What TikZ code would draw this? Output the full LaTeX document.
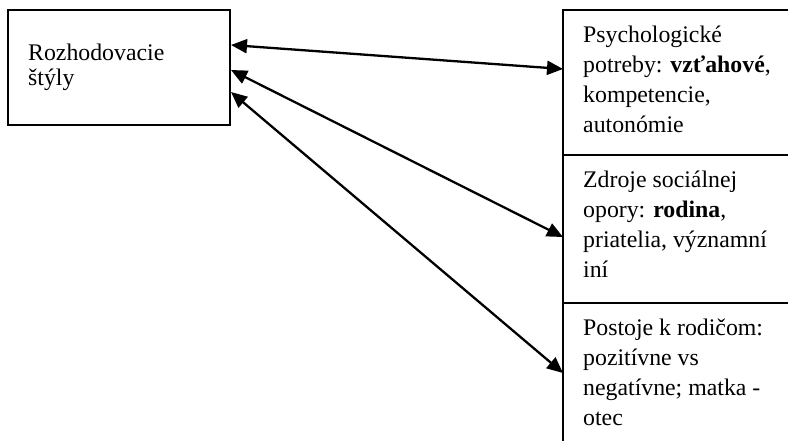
\documentclass[tikz,border=0pt]{standalone}
\usepackage{fontspec}
\setmainfont{Liberation Serif}
\usetikzlibrary{arrows.meta}
\begin{document}
\begin{tikzpicture}[x=1pt,y=-1pt,
  boxline/.style={draw=black,line width=1.5pt,inner sep=0pt},
  txt/.style={anchor=base west,inner sep=0pt,font=\fontsize{23.8}{30}\selectfont},
  link/.style={line width=2.3pt,{Triangle[length=16pt,width=14pt]}-{Triangle[length=16pt,width=14pt]}}]
\useasboundingbox (0,0) rectangle (788,440);
\fill[white] (0,0) rectangle (788,440);
% boxes
\node[boxline,minimum width=222pt,minimum height=115pt] (rs) at (119,67.5) {};
\node[boxline,minimum width=300pt,minimum height=145pt] (pp) at (713,82.5) {};
\node[boxline,minimum width=300pt,minimum height=148pt] (zs) at (713,229) {};
\node[boxline,minimum width=300pt,minimum height=160pt] (pr) at (713,383) {};
% texts
\node[txt] (t1) at (28,60) {Rozhodovacie};
\node[txt] (t2) at (28,85) {štýly};
\node[txt] (p1) at (583,42) {Psychologické};
\node[txt] (p2) at (583,72) {potreby: \textbf{vzťahové},};
\node[txt] (p3) at (583,102) {kompetencie,};
\node[txt] (p4) at (583,132) {autonómie};
\node[txt] (z1) at (583,187) {Zdroje sociálnej};
\node[txt] (z2) at (583,217) {opory: \textbf{rodina},};
\node[txt] (z3) at (583,247) {priatelia, významní};
\node[txt] (z4) at (583,277) {iní};
\node[txt] (r1) at (583,335) {Postoje k rodičom:};
\node[txt] (r2) at (583,365) {pozitívne vs};
\node[txt] (r3) at (583,395) {negatívne; matka -};
\node[txt] (r4) at (583,425) {otec};
% connector ends
\coordinate (a1) at (231,45);
\coordinate (a2) at (231,70);
\coordinate (a3) at (231,92);
\coordinate (b1) at (563,69);
\coordinate (b2) at (563,237);
\coordinate (b3) at (563,373);
\draw[link] (a1) -- (b1);
\draw[link] (a2) -- (b2);
\draw[link] (a3) -- (b3);
\end{tikzpicture}
\end{document}
